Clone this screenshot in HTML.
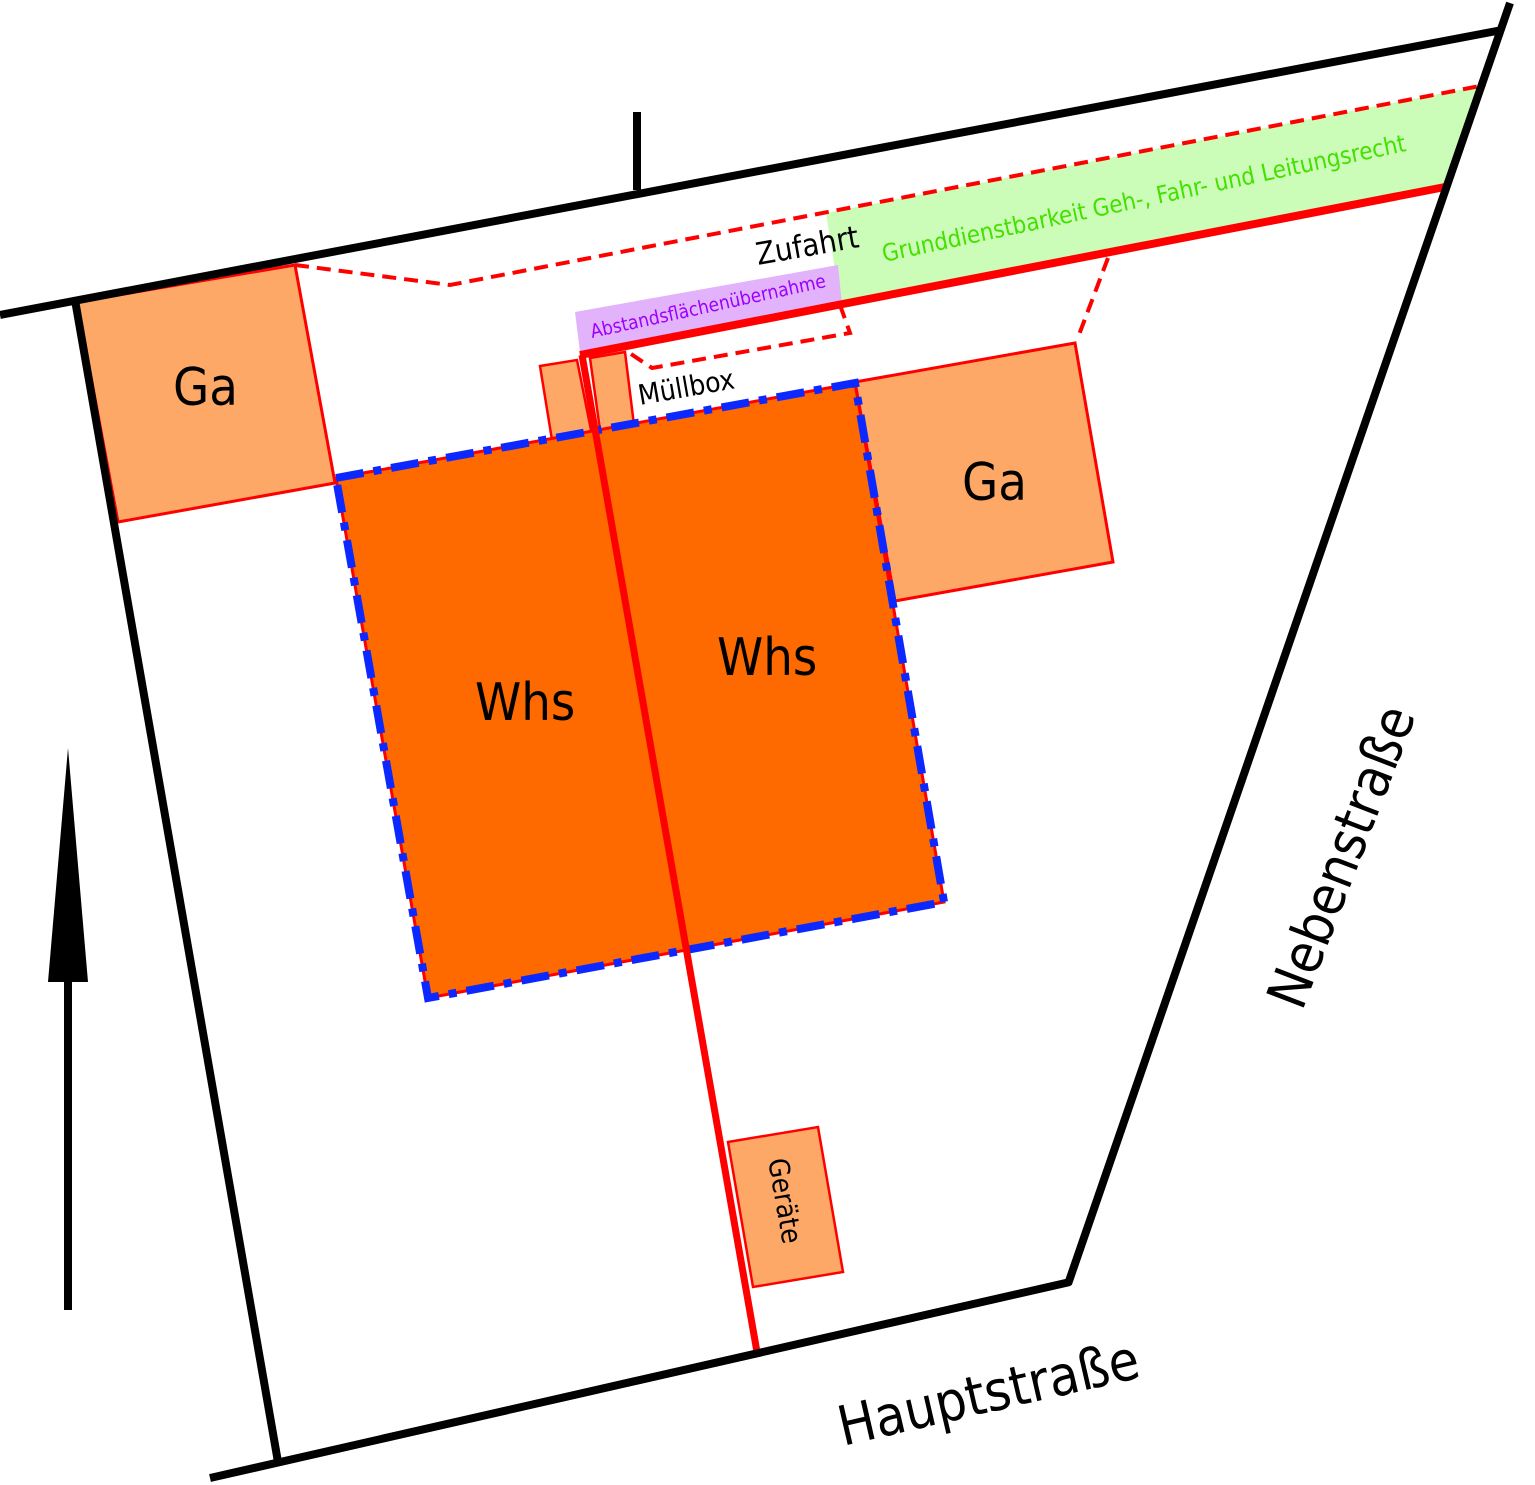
<!DOCTYPE html>
<html><head><meta charset="utf-8"><style>html,body{margin:0;padding:0;background:#fff}svg{display:block}text{font-family:"DejaVu Sans Condensed","DejaVu Sans","Liberation Sans",sans-serif}</style></head>
<body>
<svg width="1535" height="1485" viewBox="0 0 1535 1485" xmlns="http://www.w3.org/2000/svg">
<polygon points="826,213 1485,85 1445,187 840,302" fill="#ccfdb8"/>
<polygon points="575,312 838,265 842,305 580,352" fill="#e2b2fb"/>
<polyline points="295,265 450,285 1485,85" fill="none" stroke="#f00" stroke-width="4" stroke-dasharray="14,8"/>
<polyline points="840,305 850,333 652,368 628,352" fill="none" stroke="#f00" stroke-width="4" stroke-dasharray="14,8"/>
<line x1="1108" y1="258" x2="1077" y2="340" stroke="#f00" stroke-width="4" stroke-dasharray="14,8"/>
<polygon points="77,302 295,265 335,483 118,522" fill="#fda866" stroke="#f00" stroke-width="3"/>
<polygon points="855,382 1075,343 1113,562 895,601" fill="#fda866" stroke="#f00" stroke-width="3"/>
<polygon points="540,366 577,360 592,435 552,440" fill="#fda866" stroke="#f00" stroke-width="2.5"/>
<polygon points="590,358 625,352 634,425 600,430" fill="#fda866" stroke="#f00" stroke-width="2.5"/>
<polygon points="336,478 855,383 944,902 428,998" fill="#fe6900" stroke="#f00" stroke-width="3"/>
<polygon points="336,478 855,383 944,902 428,998" fill="none" stroke="#0a28ff" stroke-width="8" stroke-dasharray="28,10,8,10"/>
<polygon points="728,1142 818,1127 843,1272 753,1287" fill="#fda866" stroke="#f00" stroke-width="2.5"/>
<line x1="580" y1="355" x2="1445" y2="187" stroke="#f00" stroke-width="8"/>
<line x1="582" y1="355" x2="757" y2="1352" stroke="#f00" stroke-width="7"/>
<g stroke="#000" stroke-width="8" fill="none">
<line x1="0" y1="315" x2="1502" y2="30"/>
<line x1="1510" y1="3" x2="1068" y2="1284"/>
<line x1="75" y1="300" x2="278" y2="1462"/>
<line x1="210" y1="1478" x2="1070" y2="1282"/>
<line x1="637" y1="112" x2="637" y2="190"/>
<line x1="68" y1="1310" x2="68" y2="975"/>
</g>
<polygon points="48,982 88,982 68,748" fill="#000"/>
<text x="173" y="405" font-size="52">Ga</text>
<text x="962" y="500" font-size="52">Ga</text>
<text x="475" y="720" font-size="52">Whs</text>
<text x="717" y="675" font-size="52">Whs</text>
<text transform="translate(758,265) rotate(-10)" font-size="31">Zufahrt</text>
<text transform="translate(640,405) rotate(-10)" font-size="28">Müllbox</text>
<text transform="translate(884,262) rotate(-12)" font-size="24" fill="#44e000" font-family="Liberation Sans">Grunddienstbarkeit Geh-, Fahr- und Leitungsrecht</text>
<text transform="translate(592,338) rotate(-12.3)" font-size="19" fill="#9b00ff" font-family="Liberation Sans">Abstandsflächenübernahme</text>
<text transform="translate(768,1160) rotate(80)" font-size="28">Geräte</text>
<text transform="translate(843,1446) rotate(-13)" font-size="55">Hauptstraße</text>
<text transform="translate(1302,1012) rotate(-69)" font-size="55">Nebenstraße</text>
</svg>
</body></html>
